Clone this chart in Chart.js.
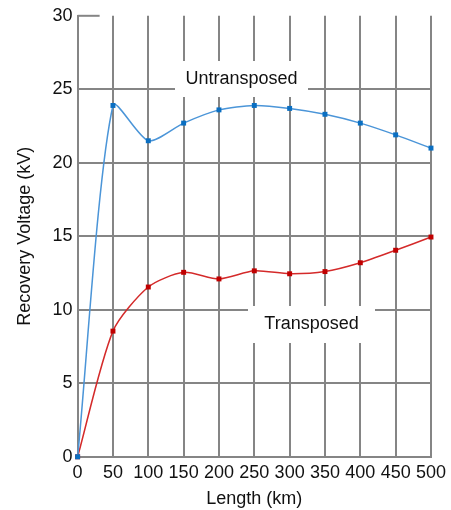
<!DOCTYPE html>
<html>
<head>
<meta charset="utf-8">
<script src="https://cdn.jsdelivr.net/npm/chart.js@4"></script>
<style>
  body { margin: 0; background: #fff; }
  #wrap { width: 451px; height: 510px; }
</style>
</head>
<body>
<div id="wrap"><canvas id="recovery"></canvas></div>
<script>
// Recovery voltage vs line length
var lengths = [0, 50, 100, 150, 200, 250, 300, 350, 400, 450, 500];
var untransposed = [0, 23.9, 21.5, 22.7, 23.6, 23.9, 23.7, 23.3, 22.7, 21.9, 21.0];
var transposed = [0, 8.55, 11.55, 12.55, 12.1, 12.65, 12.45, 12.6, 13.2, 14.05, 14.95];
var yTicks = [0, 5, 10, 15, 20, 25, 30];

var FONT = "'Liberation Sans', Arial, sans-serif";

function toPoints(values) {
    return lengths.map(function (x, i) { return { x: x, y: values[i] }; });
}

// white label boxes drawn over the grid, under the lines
var labelBoxes = {
    id: "labelBoxes",
    beforeDatasetsDraw: function (chart) {
        var c = chart.ctx;
        var area = chart.chartArea;
        var boxes = [
            { text: "Untransposed", x0: 175, x1: 308, y0: 61, y1: 97 },
            { text: "Transposed", x0: 248, x1: 375, y0: 306, y1: 343 },
        ];
        c.save();
        // short stub of the top gridline
        c.strokeStyle = "#858585";
        c.lineWidth = 2;
        c.beginPath();
        c.moveTo(area.left, area.top);
        c.lineTo(area.left + 22, area.top);
        c.stroke();
        boxes.forEach(function (b) {
            c.fillStyle = "#fff";
            c.fillRect(b.x0, b.y0, b.x1 - b.x0, b.y1 - b.y0);
            c.fillStyle = "#111";
            c.font = "18px " + FONT;
            c.textAlign = "center";
            c.textBaseline = "middle";
            c.fillText(b.text, (b.x0 + b.x1) / 2, (b.y0 + b.y1) / 2);
        });
        c.restore();
    },
};

var ctx = document.getElementById("recovery").getContext("2d");
new Chart(ctx, {
    type: "line",
    data: {
        datasets: [
            {
                label: "Untransposed",
                data: toPoints(untransposed),
                borderColor: "#4b95d8",
                borderWidth: 1.5,
                backgroundColor: "#0a6fc2",
                pointBackgroundColor: "#0a6fc2",
                pointBorderWidth: 0,
                pointStyle: "rect",
                pointRadius: 3.5,
                tension: 0.25,
                clip: false,
            },
            {
                label: "Transposed",
                data: toPoints(transposed),
                borderColor: "#d42a2a",
                borderWidth: 1.5,
                backgroundColor: "#c00000",
                pointBackgroundColor: "#c00000",
                pointBorderWidth: 0,
                pointStyle: "rect",
                pointRadius: 3.5,
                tension: 0.25,
                clip: false,
            },
        ],
    },
    options: {
        responsive: true,
        maintainAspectRatio: false,
        animation: false,
        layout: { padding: { top: 10, right: 3, left: 0, bottom: 0 } },
        plugins: {
            legend: { display: false },
            tooltip: { enabled: false },
        },
        scales: {
            x: {
                type: "linear",
                min: 0,
                max: 500,
                afterBuildTicks: function (axis) {
                    axis.ticks = lengths.map(function (v) { return { value: v }; });
                },
                grid: { color: "#858585", lineWidth: 2, drawTicks: false },
                border: { color: "#858585", width: 2 },
                ticks: {
                    color: "#111",
                    padding: 5,
                    maxRotation: 0,
                    autoSkip: false,
                    font: { family: FONT, size: 18 },
                },
                title: {
                    display: true,
                    text: "Length (km)",
                    color: "#111",
                    padding: { top: 0, bottom: 0 },
                    font: { family: FONT, size: 18 },
                },
            },
            y: {
                min: 0,
                max: 30,
                afterBuildTicks: function (axis) {
                    axis.ticks = yTicks.map(function (v) { return { value: v }; });
                },
                grid: {
                    color: function (c) {
                        return c.tick && c.tick.value === 30 ? "rgba(0,0,0,0)" : "#858585";
                    },
                    lineWidth: 2,
                    drawTicks: false,
                },
                border: { color: "#858585", width: 2 },
                ticks: {
                    color: "#111",
                    padding: 5,
                    font: { family: FONT, size: 18 },
                },
                title: {
                    display: true,
                    text: "Recovery Voltage (kV)",
                    color: "#111",
                    padding: { top: 14, bottom: 12 },
                    font: { family: FONT, size: 18 },
                },
            },
        },
    },
    plugins: [labelBoxes],
});
</script>
</body>
</html>
